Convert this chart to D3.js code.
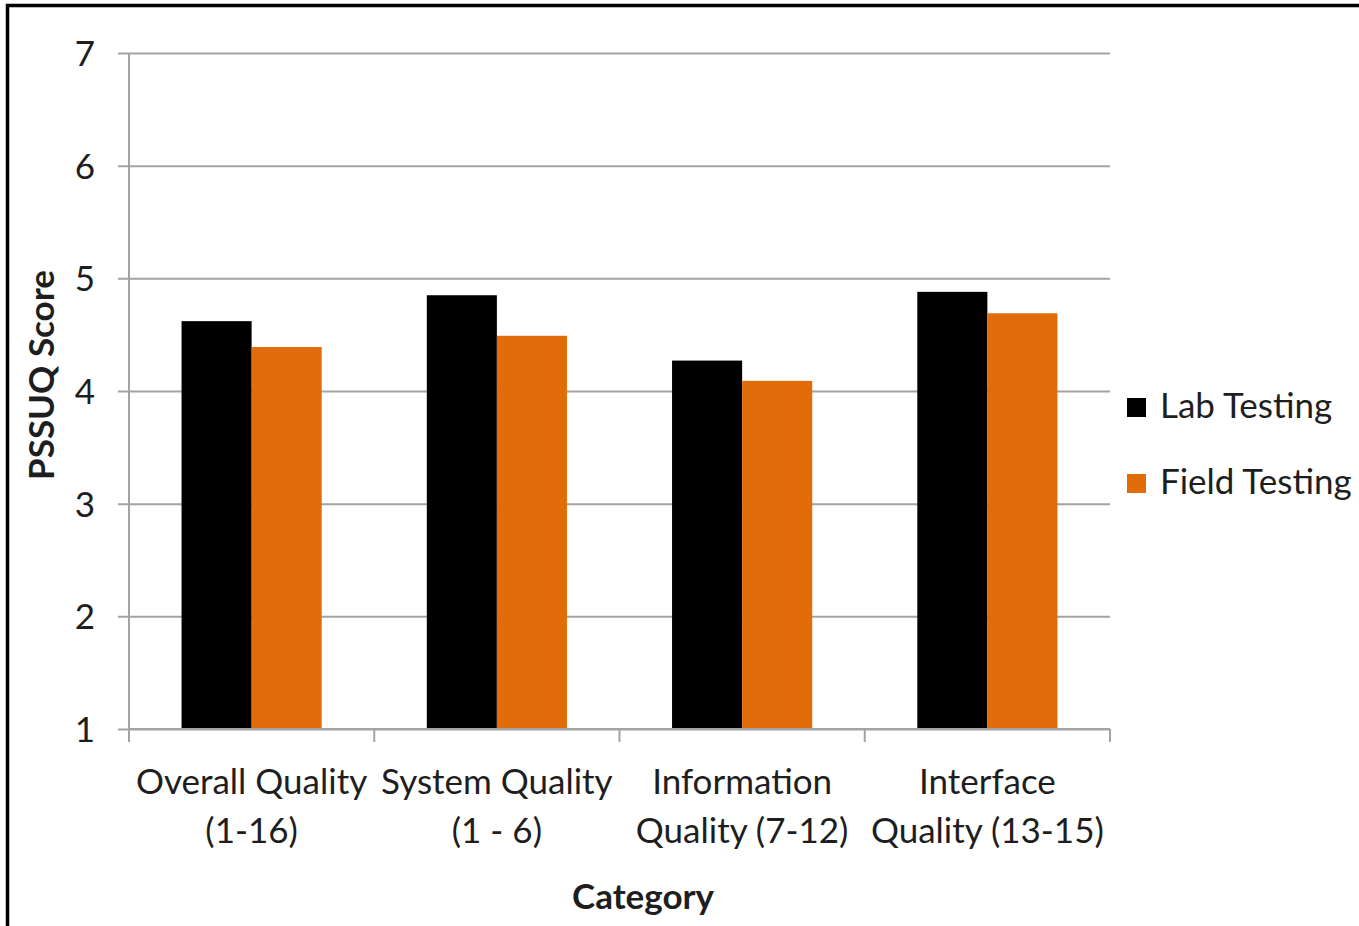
<!DOCTYPE html>
<html>
<head>
<meta charset="utf-8">
<script src="https://cdn.jsdelivr.net/npm/d3@7"></script>
<style>
  html, body { margin: 0; padding: 0; background: #fff; }
  svg { display: block; }
  text { font-family: Lato, "Open Sans", sans-serif; fill: #1e1e1e; }
</style>
</head>
<body>
<svg id="chart" width="1359" height="926"></svg>
<script>
// PSSUQ scores by category, lab vs field sessions
const categories = [
  ["Overall Quality", "(1-16)"],
  ["System Quality", "(1 - 6)"],
  ["Information", "Quality (7-12)"],
  ["Interface", "Quality (13-15)"]
];
const seriesNames = ["Lab Testing", "Field Testing"];
const seriesColors = ["#000000", "#e36c0a"];
const labTesting = [4.62, 4.85, 4.27, 4.88];
const fieldTesting = [4.39, 4.49, 4.09, 4.69];
const yTicks = [1, 2, 3, 4, 5, 6, 7];
const yTitle = "PSSUQ Score";
const xTitle = "Category";

const seriesValues = [labTesting, fieldTesting];

const svg = d3.select("#chart");
const plot = { left: 129, right: 1110, top: 53, bottom: 729 };
const gridColor = "#a3a3a3";
const fontSize = 35;

// outer frame (top and left edges)
svg.append("path")
  .attr("d", "M7.5,926 V5.5 H1359")
  .attr("fill", "none")
  .attr("stroke", "#000")
  .attr("stroke-width", 3.5);

const y = d3.scaleLinear().domain([1, 7]).range([plot.bottom, plot.top]);
const x = d3.scaleBand()
  .domain(d3.range(categories.length))
  .range([plot.left, plot.right])
  .padding(0);

// gap width of 150% between clusters
const groupWidth = x.step() * 2 / 3.5;
const xs = d3.scaleBand()
  .domain(d3.range(seriesNames.length))
  .range([0, groupWidth])
  .padding(0);

// horizontal gridlines with left tick stubs
const yAxis = d3.axisLeft(y)
  .tickValues(yTicks)
  .tickSize(plot.right - plot.left + 11)
  .tickFormat(d3.format("d"));

const gy = svg.append("g")
  .attr("transform", `translate(${plot.right},0)`)
  .call(yAxis);
gy.select(".domain").remove();
gy.selectAll(".tick line")
  .attr("stroke", gridColor)
  .attr("stroke-width", 2);
gy.selectAll(".tick text")
  .attr("x", -(plot.right - plot.left) - 34)
  .attr("dy", "0.36em")
  .style("font-size", fontSize + "px")
  .style("font-family", "Lato, 'Open Sans', sans-serif")
  .attr("fill", "#1e1e1e");

// vertical axis line
svg.append("line")
  .attr("x1", plot.left).attr("x2", plot.left)
  .attr("y1", plot.top).attr("y2", plot.bottom + 13)
  .attr("stroke", gridColor)
  .attr("stroke-width", 2);

// category boundary ticks
const boundaries = d3.range(categories.length + 1).map(i => plot.left + i * x.step());
svg.append("g").selectAll("line")
  .data(boundaries)
  .join("line")
  .attr("x1", d => d).attr("x2", d => d)
  .attr("y1", plot.bottom).attr("y2", plot.bottom + 13)
  .attr("stroke", gridColor)
  .attr("stroke-width", 2);

// bars
const groups = svg.append("g").selectAll("g")
  .data(categories.map((c, i) => i))
  .join("g")
  .attr("transform", i => `translate(${x(i) + (x.step() - groupWidth) / 2},0)`);

groups.selectAll("rect")
  .data(i => seriesValues.map((vals, s) => ({ s, v: vals[i] })))
  .join("rect")
  .attr("x", d => xs(d.s))
  .attr("width", xs.bandwidth())
  .attr("y", d => y(d.v))
  .attr("height", d => y(1) - y(d.v))
  .attr("fill", d => seriesColors[d.s]);

// redraw the baseline over the bars
svg.append("line")
  .attr("x1", plot.left).attr("x2", plot.right)
  .attr("y1", plot.bottom).attr("y2", plot.bottom)
  .attr("stroke", gridColor)
  .attr("stroke-width", 2);

// category labels (two lines each)
const catLabels = svg.append("g").selectAll("text")
  .data(categories)
  .join("text")
  .attr("x", (d, i) => x(i) + x.step() / 2)
  .attr("y", 794)
  .attr("text-anchor", "middle")
  .style("font-size", fontSize + "px");
catLabels.selectAll("tspan")
  .data(d => d)
  .join("tspan")
  .attr("x", function () { return d3.select(this.parentNode).attr("x"); })
  .attr("dy", (d, j) => j === 0 ? 0 : 49)
  .text(d => d);

// axis titles
svg.append("text")
  .attr("x", 643)
  .attr("y", 909)
  .attr("text-anchor", "middle")
  .style("font-size", fontSize + "px")
  .style("font-weight", "bold")
  .text(xTitle);

svg.append("text")
  .attr("transform", "translate(54,375) rotate(-90)")
  .attr("text-anchor", "middle")
  .style("font-size", fontSize + "px")
  .style("font-weight", "bold")
  .text(yTitle);

// legend
const legend = svg.append("g").selectAll("g")
  .data(seriesNames)
  .join("g")
  .attr("transform", (d, i) => `translate(1127,${398 + i * 76})`);
legend.append("rect")
  .attr("width", 19)
  .attr("height", 19)
  .attr("fill", (d, i) => seriesColors[i]);
legend.append("text")
  .attr("x", 33)
  .attr("y", 20)
  .style("font-size", fontSize + "px")
  .text(d => d);
</script>
</body>
</html>
